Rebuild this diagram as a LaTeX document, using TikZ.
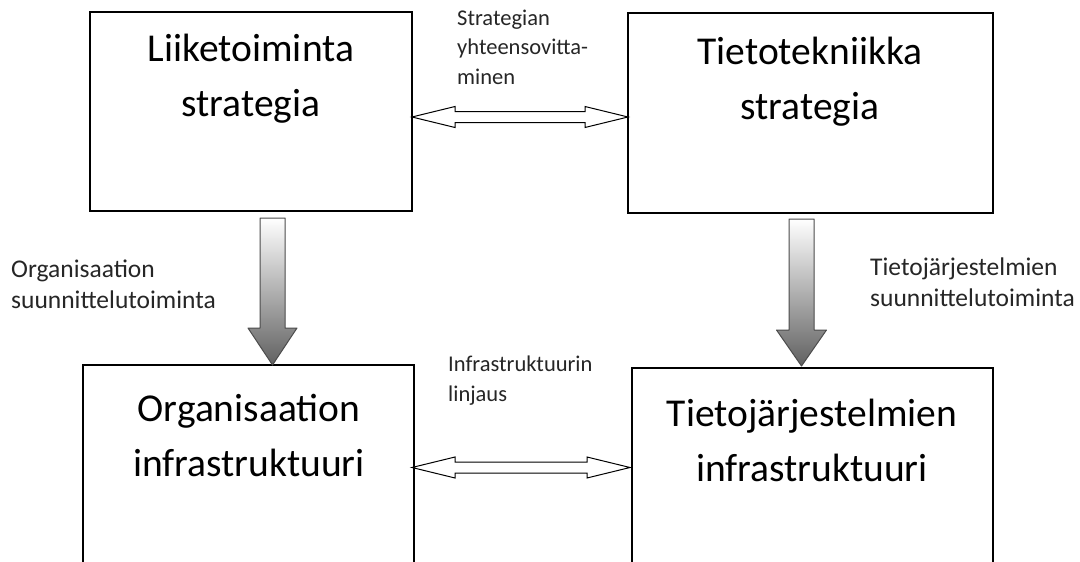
\documentclass[tikz,border=0pt]{standalone}
\usepackage{fontspec}
\setmainfont{Carlito}
\usetikzlibrary{calc}
\begin{document}
\begin{tikzpicture}[x=1pt,y=-1pt,
  box/.style={draw=black,line width=1.3pt,fill=none,inner sep=0pt,outer sep=0pt,anchor=north west},
  bigtext/.style={align=center,anchor=base,inner sep=0pt,font=\fontsize{39.5}{55}\selectfont},
  midtext/.style={align=left,anchor=base west,inner sep=0pt,text=black!85,font=\fontsize{22.5}{29.5}\selectfont},
  sidetext/.style={align=left,anchor=base west,inner sep=0pt,text=black!85,font=\fontsize{25.5}{30.5}\selectfont},
  twoway/.style={draw=black,line width=1pt,fill=white,line join=miter},
  downway/.style={draw=black!70,line width=1pt,top color=white,bottom color=black!62,line join=round}]
\useasboundingbox (0,0) rectangle (1080,562);
\clip (0,0) rectangle (1080,562);
\fill[white] (0,0) rectangle (1080,562);
% boxes
\node[box,minimum width=322pt,minimum height=199pt] (b1) at (90,12) {};
\node[box,minimum width=365pt,minimum height=200pt] (b2) at (628,13) {};
\node[box,minimum width=331pt,minimum height=260pt] (b3) at (83,365) {};
\node[box,minimum width=361pt,minimum height=260pt] (b4) at (632,368) {};
% box texts (anchored at the baseline of the last line)
\node[bigtext] (t1) at (251,116) {Liiketoiminta\\strategia};
\node[bigtext] (t2) at (810,119) {Tietotekniikka\\strategia};
\node[bigtext] (t3) at (249,476) {Organisaation\\infrastruktuuri};
\node[bigtext] (t4) at (812,481) {Tietojärjestelmien\\infrastruktuuri};
% labels
\node[midtext] (l1) at (457,84) {Strategian\\yhteensovitta-\\minen};
\node[midtext] (l2) at (448,401) {Infrastruktuurin\\linjaus};
\node[sidetext] (l3) at (11,308) {Organisaation\\suunnittelutoiminta};
\node[sidetext] (l4) at (870,306) {Tietojärjestelmien\\suunnittelutoiminta};
% double arrows between boxes
\coordinate (a1) at (b1.east |- 0,117);
\coordinate (a2) at (b2.west |- 0,117);
\draw[twoway] (a1) -- ++(43,-10.5) -- ++(0,5) -- ($(a2)+(-43,-5.5)$) -- ++(0,-5) -- (a2)
  -- ++(-43,10.5) -- ++(0,-5) -- ($(a1)+(43,5.5)$) -- ++(0,5) -- cycle;
\coordinate (c1) at (412,467.5);
\coordinate (c2) at (630,467.5);
\draw[twoway] (c1) -- ++(43,-10.5) -- ++(0,5) -- ($(c2)+(-43,-5.5)$) -- ++(0,-5) -- (c2)
  -- ++(-43,10.5) -- ++(0,-5) -- ($(c1)+(43,5.5)$) -- ++(0,5) -- cycle;
% down arrows
\coordinate (d1) at (272.5,218);
\coordinate (e1) at (272.5,365);
\draw[downway] ($(d1)+(-12.5,0)$) -- ($(d1)+(12.5,0)$) -- ($(e1)+(12.5,-37)$) -- ($(e1)+(24.5,-37)$)
  -- (e1) -- ($(e1)+(-24.5,-37)$) -- ($(e1)+(-12.5,-37)$) -- cycle;
\coordinate (d2) at (801.5,219);
\coordinate (e2) at (801.5,366);
\draw[downway] ($(d2)+(-12.5,0)$) -- ($(d2)+(12.5,0)$) -- ($(e2)+(12.5,-36)$) -- ($(e2)+(25,-36)$)
  -- (e2) -- ($(e2)+(-25,-36)$) -- ($(e2)+(-12.5,-36)$) -- cycle;
\end{tikzpicture}
\end{document}
